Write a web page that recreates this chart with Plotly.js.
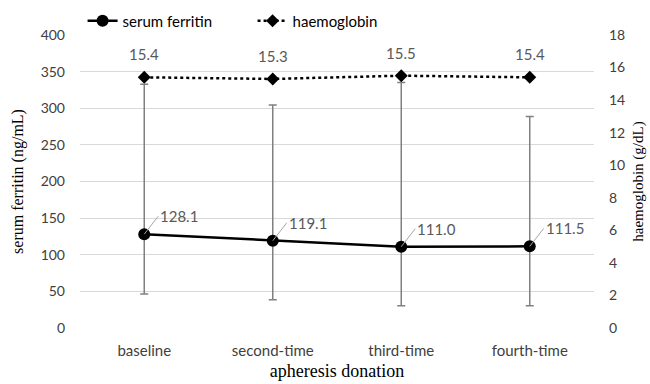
<!DOCTYPE html>
<html>
<head>
<meta charset="utf-8">
<script src="https://cdn.plot.ly/plotly-3.0.1.min.js"></script>
<style>html,body{margin:0;padding:0;background:#fff}#chart{width:650px;height:384px}</style>
</head>
<body>
<div id="chart"></div>
<script>
const categories = ["baseline", "second-time", "third-time", "fourth-time"];
const ferritin = [128.1, 119.1, 111.0, 111.5];
const ferritinErrPlus = [204.6, 185.4, 224.0, 177.1];
const ferritinErrMinus = [81.7, 80.5, 80.6, 81.1];
const haemoglobin = [15.4, 15.3, 15.5, 15.4];
const leftTicks = [0, 50, 100, 150, 200, 250, 300, 350, 400];
const rightTicks = [0, 2, 4, 6, 8, 10, 12, 14, 16, 18];

const sans = "Lato, 'Open Sans', sans-serif";
const serif = "'Liberation Serif', 'DejaVu Serif', serif";

const traces = [
  {
    name: "serum ferritin",
    x: categories, y: ferritin, type: "scatter", mode: "lines+markers",
    line: {color: "#000000", width: 2.5},
    marker: {symbol: "circle", size: 12, color: "#000000"},
    error_y: {type: "data", symmetric: false, array: ferritinErrPlus, arrayminus: ferritinErrMinus,
              color: "#808080", thickness: 1.5, width: 4},
    yaxis: "y"
  },
  {
    name: "haemoglobin",
    x: categories, y: haemoglobin, type: "scatter", mode: "lines+markers",
    line: {color: "#000000", width: 2.5, dash: "dot"},
    marker: {symbol: "diamond", size: 10, color: "#000000"},
    yaxis: "y2"
  }
];

const annotations = [];
categories.forEach((c, i) => {
  annotations.push({
    x: c, y: haemoglobin[i], xref: "x", yref: "y2", text: haemoglobin[i].toFixed(1),
    showarrow: false, yshift: 23, font: {family: sans, size: 15, color: "#595959"}
  });
  annotations.push({
    x: c, y: ferritin[i], xref: "x", yref: "y", text: ferritin[i].toFixed(1),
    showarrow: true, arrowhead: 0, arrowwidth: 1, arrowcolor: "#a6a6a6",
    ax: 14, ay: -18, xanchor: "left", yanchor: "middle",
    font: {family: sans, size: 15, color: "#595959"}
  });
});

const layout = {
  width: 650, height: 384,
  margin: {l: 80, r: 56, t: 35, b: 56, autoexpand: false},
  paper_bgcolor: "#ffffff", plot_bgcolor: "#ffffff",
  font: {family: sans, size: 14, color: "#404040"},
  showlegend: true,
  legend: {orientation: "h", x: 0.005, xanchor: "left", y: 1.048, yanchor: "middle",
           font: {family: sans, size: 15, color: "#000000"}, bgcolor: "rgba(0,0,0,0)",
           entrywidth: 125, entrywidthmode: "pixels"},
  xaxis: {
    type: "category", range: [-0.5, 3.5], showgrid: false, zeroline: false, showline: false,
    ticks: "", ticklabelstandoff: 12,
    tickfont: {family: sans, size: 15, color: "#404040"},
    title: {text: "apheresis donation", font: {family: serif, size: 18, color: "#000000"}, standoff: 6}
  },
  yaxis: {
    range: [0, 400], tickvals: leftTicks, showgrid: true, gridcolor: "#d9d9d9", gridwidth: 1,
    zeroline: false, showline: false, ticks: "", ticklabelstandoff: 14,
    tickfont: {family: sans, size: 14, color: "#404040"},
    title: {text: "serum ferritin (ng/mL)", font: {family: serif, size: 16, color: "#000000"}, standoff: 13}
  },
  yaxis2: {
    range: [0, 18], tickvals: rightTicks, overlaying: "y", side: "right", showgrid: false,
    zeroline: false, showline: false, ticks: "", ticklabelstandoff: 14,
    tickfont: {family: sans, size: 14, color: "#404040"},
    title: {text: "haemoglobin (g/dL)", font: {family: serif, size: 15, color: "#000000"}, standoff: 8}
  },
  annotations: annotations
};

Plotly.newPlot("chart", traces, layout, {displayModeBar: false, staticPlot: true});
</script>
</body>
</html>
